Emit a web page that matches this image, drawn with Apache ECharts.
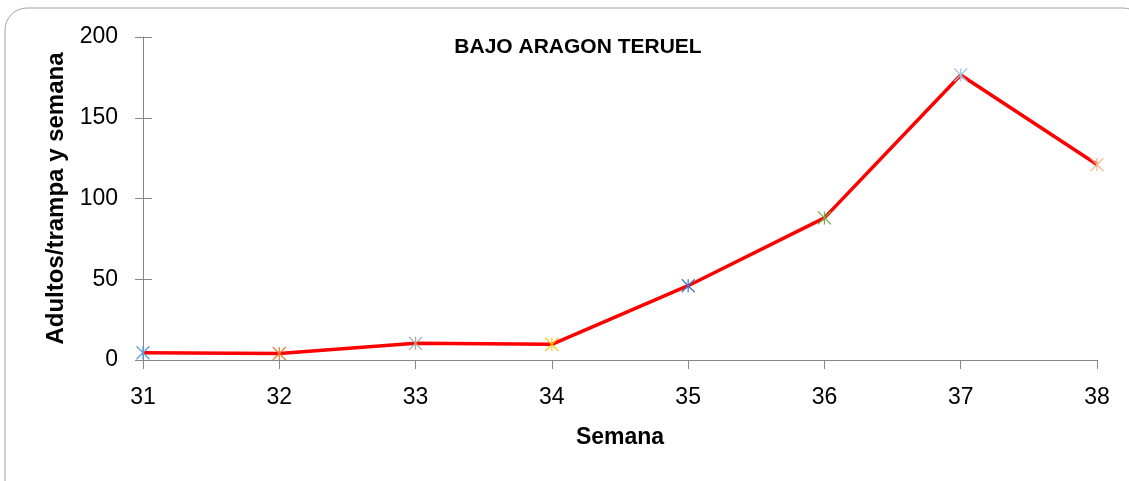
<!DOCTYPE html>
<html>
<head>
<meta charset="utf-8">
<style>
  html, body { margin: 0; padding: 0; background: #fff; }
  #chart { width: 1129px; height: 481px; }
</style>
<script src="https://cdn.jsdelivr.net/npm/echarts@6/dist/echarts.min.js"></script>
</head>
<body>
<div id="chart"></div>
<script>
// datos de la gráfica
const semanas = ["31", "32", "33", "34", "35", "36", "37", "38"];
const adultos = [4.5, 4, 10.3, 9.7, 46, 88, 176.5, 121];
const coloresMarca = ["#5B9BD5", "#ED7D31", "#A5A5A5", "#FFC000", "#4472C4", "#70AD47", "#9DC3E6", "#F4B183"];
const ticksY = [0, 50, 100, 150, 200];

const chart = echarts.init(document.getElementById("chart"));

// marca tipo asterisco (x + linea vertical)
const asterisco = "path://M0,0L10,10M10,0L0,10M5,0L5,10";

const option = {
  animation: false,
  title: {
    text: "BAJO ARAGON TERUEL",
    left: 573,
    top: 32,
    textAlign: "center",
    textStyle: { fontFamily: "Liberation Sans", fontWeight: "bold", fontSize: 21, color: "#000" }
  },
  graphic: [{
    type: "rect",
    shape: { x: 5, y: 8, width: 1140, height: 500, r: 22 },
    style: { fill: null, stroke: "#a0a0a0", lineWidth: 1 },
    silent: true
  }],
  grid: { left: 143, right: 32, top: 37, bottom: 121 },
  xAxis: {
    type: "category",
    data: semanas,
    boundaryGap: false,
    name: "Semana",
    nameLocation: "middle",
    nameGap: 66,
    nameTextStyle: { fontFamily: "Liberation Sans", fontWeight: "bold", fontSize: 23, color: "#000" },
    axisLine: { lineStyle: { color: "#868686", width: 1 } },
    axisTick: { show: true, length: 9, alignWithLabel: true, lineStyle: { color: "#868686" } },
    axisLabel: { margin: 26, fontFamily: "Liberation Sans", fontSize: 23, color: "#000" },
    splitLine: { show: false }
  },
  yAxis: [{
    type: "value",
    min: ticksY[0],
    max: ticksY[ticksY.length - 1],
    interval: 50,
    name: "Adultos/trampa y semana",
    nameLocation: "middle",
    nameGap: 69,
    nameRotate: 90,
    nameTextStyle: { fontFamily: "Liberation Sans", fontWeight: "bold", fontSize: 24, color: "#000" },
    axisLine: { show: true, lineStyle: { color: "#868686", width: 1 } },
    axisTick: { show: true, length: 8, lineStyle: { color: "#868686" } },
    axisLabel: { margin: 25, fontFamily: "Liberation Sans", fontSize: 23, color: "#000" },
    splitLine: { show: false }
  }, {
    // solo para las marcas interiores del eje
    type: "value",
    position: "left",
    min: ticksY[0],
    max: ticksY[ticksY.length - 1],
    interval: 50,
    axisLine: { show: false },
    axisTick: { show: true, inside: true, length: 9, lineStyle: { color: "#868686" } },
    axisLabel: { show: false },
    splitLine: { show: false }
  }],
  series: [{
    type: "line",
    data: adultos.map((v, i) => ({
      value: v,
      itemStyle: { color: coloresMarca[i], borderColor: coloresMarca[i], borderWidth: 1.2 }
    })),
    symbol: asterisco,
    symbolSize: 13,
    showAllSymbol: true,
    z: 3,
    lineStyle: { color: "#FF0000", width: 3.5 }
  }]
};

chart.setOption(option);
</script>
</body>
</html>
